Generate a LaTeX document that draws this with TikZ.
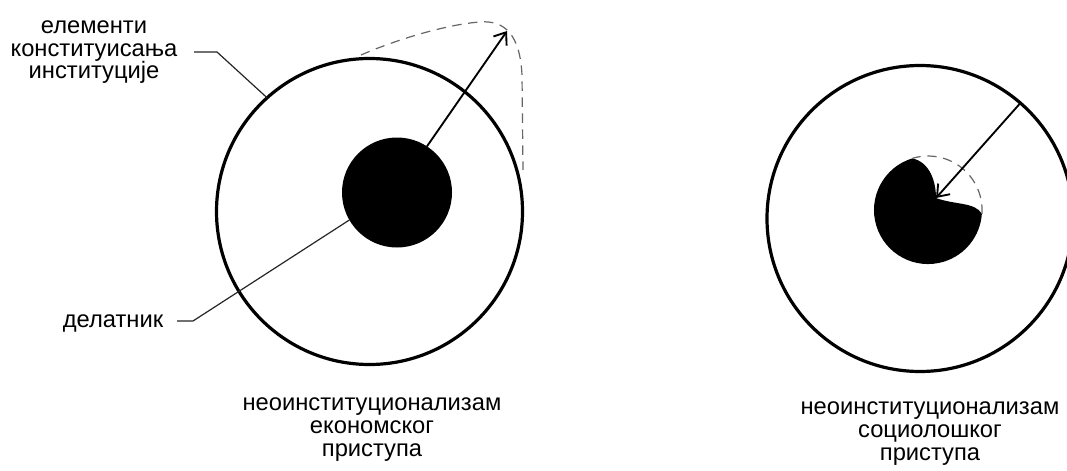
\documentclass[tikz,border=0pt]{standalone}
\usepackage{fontspec}
\setmainfont{Liberation Sans}
\usetikzlibrary{arrows.meta}
\begin{document}
\begin{tikzpicture}[x=0.75pt,y=-0.75pt,
  lbl/.style={font=\fontsize{17.8}{17}\selectfont, inner sep=0pt, anchor=base},
  ring/.style={circle, draw, line width=2.4pt, inner sep=0pt, outer sep=0pt, minimum size=229.5pt},
  disk/.style={circle, fill=black, inner sep=0pt, outer sep=0pt, minimum size=82.5pt},
  leader/.style={line width=0.9pt, black!85},
  ray/.style={line width=1.4pt, -{Straight Barb[length=8pt,width=12pt,line width=1.4pt]}},
  trace/.style={line width=0.9pt, black!60, dash pattern=on 7pt off 5pt}]
\useasboundingbox (0,0) rectangle (1067,471);
\clip (0,0) rectangle (1067,471);
\fill[white] (0,0) rectangle (1067,471);

% left diagram
\node[ring] (ringL) at (369.5,211.5) {};
\node[disk] (diskL) at (397,192.5) {};
\coordinate (tipL) at (507,31);
\draw[trace] (361,55) .. controls (400,38) and (450,24) .. (480,22)
  .. controls (505,20) and (520,35) .. (522,75) -- (523,170);
\draw[ray] (diskL.57.7) -- (tipL);

\node[lbl] (elem1) at (94,33) {елементи};
\node[lbl] (elem2) at (94,56) {конституисања};
\node[lbl] (elem3) at (94,78) {институције};
\coordinate (elemTail) at (194,52);
\draw[leader] (elemTail) -- ++(23,0) -- (ringL.132.1);

\node[lbl] (agent) at (113,327) {делатник};
\coordinate (agentTail) at (177,321);
\draw[leader] (agentTail) -- ++(16,0) -- (diskL.210.7);

\node[lbl] (econ1) at (372,410) {неоинституционализам};
\node[lbl] (econ2) at (372,433) {економског};
\node[lbl] (econ3) at (372,456) {приступа};

% right diagram
\node[ring] (ringR) at (920,218.5) {};
\coordinate (coreR) at (928,210);
\coordinate (notch) at (936,198);
\fill (912.2,158.4) arc[start angle=107, end angle=356, radius=40.5pt]
  .. controls (975,202) and (955,205) .. (notch)
  .. controls (936,182) and (930,162) .. (912.2,158.4) -- cycle;
\draw[trace] (981.9,213.8) arc[start angle=-4, end angle=107, radius=40.5pt];
\draw[ray] (ringR.49.7) -- (notch);

\node[lbl] (soc1) at (930,414) {неоинституционализам};
\node[lbl] (soc2) at (930,437) {социолошког};
\node[lbl] (soc3) at (930,460) {приступа};
\end{tikzpicture}
\end{document}
